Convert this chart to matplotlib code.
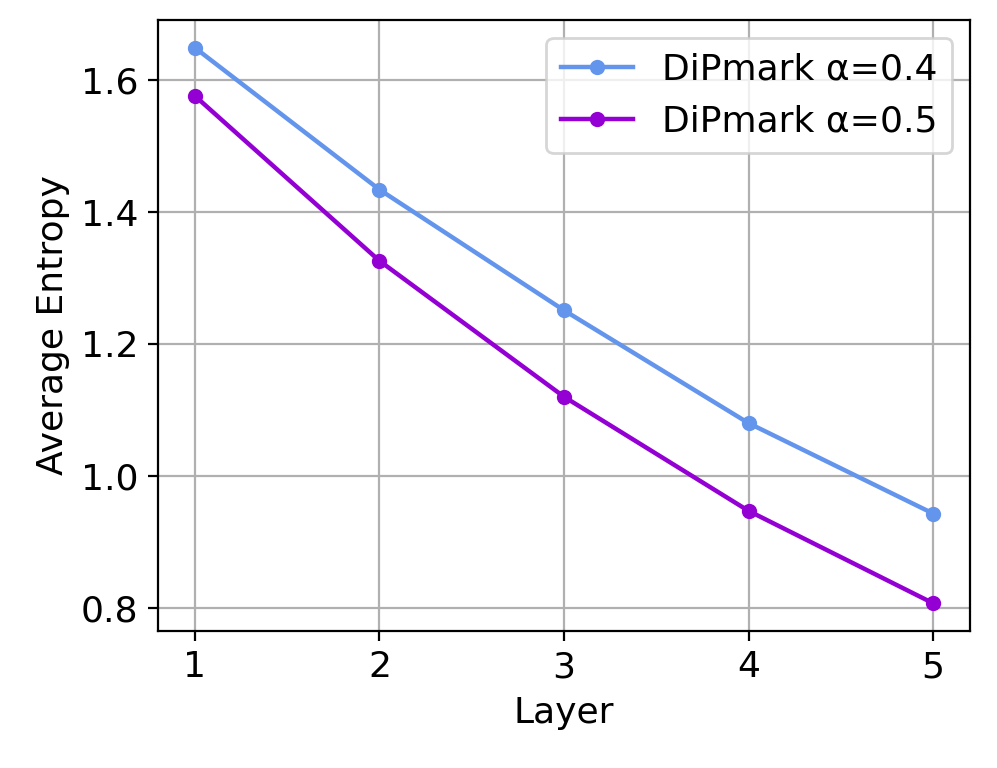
import matplotlib
matplotlib.use("Agg")
import matplotlib.pyplot as plt

layers = [1, 2, 3, 4, 5]
dip_04 = [1.649, 1.434, 1.251, 1.080, 0.943]
dip_05 = [1.576, 1.326, 1.120, 0.947, 0.807]
labels = ["DiPmark α=0.4", "DiPmark α=0.5"]

plt.rcParams['font.size'] = 13

fig = plt.figure(figsize=(997/200, 768/200), dpi=200)
ax = fig.add_axes([158/997, 1-631/768, (970-158)/997, (631-20)/768])
ax.plot(layers, dip_04, marker='o', markersize=4.5, linewidth=1.6, color='cornflowerblue', label=labels[0])
ax.plot(layers, dip_05, marker='o', markersize=4.5, linewidth=1.6, color='darkviolet', label=labels[1])
ax.set_xticks(layers)
ax.set_yticks([0.8, 1.0, 1.2, 1.4, 1.6])
ax.set_xlabel("Layer")
ax.set_ylabel("Average Entropy")
ax.grid(True)
ax.legend(loc='upper right')
fig.savefig("out.png", dpi=200)
